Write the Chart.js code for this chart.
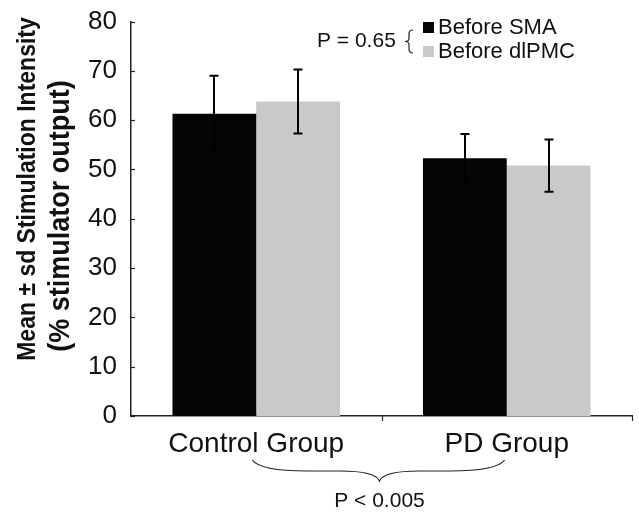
<!DOCTYPE html>
<html>
<head>
<meta charset="utf-8">
<script src="https://cdn.jsdelivr.net/npm/chart.js@4.4.1/dist/chart.umd.min.js"></script>
<style>
  html, body { margin: 0; padding: 0; background: #fff; }
  #wrap { width: 639px; height: 513px; position: relative; }
</style>
</head>
<body>
<div id="wrap"><canvas id="chart"></canvas></div>
<script>
// Stimulation intensity before SMA / dlPMC stimulation, by group
const categories = ['Control Group', 'PD Group'];
const seriesNames = ['Before SMA', 'Before dlPMC'];
const beforeSMA = [61.3, 52.3];
const beforeSMASd = [7.7, 4.9];
const beforeDLPMC = [63.8, 50.8];
const beforeDLPMCSd = [6.5, 5.3];
const yTicks = [0, 10, 20, 30, 40, 50, 60, 70, 80];
const yTitle = ['Mean \u00b1 sd Stimulation Intensity', '(% stimulator output)'];
const pSites = 'P = 0.65';
const pGroups = 'P < 0.005';

const FONT = '"Liberation Sans", Arial, Helvetica, sans-serif';
const BLACK = '#050505';
const GREY = '#c9c9c9';

// --- Annotations: error bars, inward ticks, legend, braces, axis title ---
const extras = {
  id: 'extras',
  afterDatasetsDraw(chart) {
    const ctx = chart.ctx;
    const y = chart.scales.y;
    const sds = [beforeSMASd, beforeDLPMCSd];

    // error bars
    ctx.save();
    ctx.strokeStyle = '#000';
    ctx.lineWidth = 2;
    chart.data.datasets.forEach((ds, di) => {
      const meta = chart.getDatasetMeta(di);
      meta.data.forEach((bar, i) => {
        const m = ds.data[i];
        const top = y.getPixelForValue(m + sds[di][i]);
        const bot = y.getPixelForValue(m - sds[di][i]);
        const cx = Math.round(bar.x);
        ctx.beginPath();
        ctx.moveTo(cx, top); ctx.lineTo(cx, bot);
        ctx.moveTo(cx - 4.5, top); ctx.lineTo(cx + 4.5, top);
        ctx.moveTo(cx - 4.5, bot); ctx.lineTo(cx + 4.5, bot);
        ctx.stroke();
      });
    });
    ctx.restore();
  },
  afterDraw(chart) {
    const ctx = chart.ctx;
    const x = chart.scales.x;
    const y = chart.scales.y;
    const area = chart.chartArea;

    ctx.save();
    ctx.strokeStyle = '#222';
    ctx.lineWidth = 1.2;
    // y ticks point into the plot
    y.ticks.forEach(t => {
      const py = Math.round(y.getPixelForValue(t.value)) + 0.5;
      ctx.beginPath();
      ctx.moveTo(area.left, py); ctx.lineTo(area.left + 4, py);
      ctx.stroke();
    });
    // x ticks hang below, at category boundaries and right end
    const bounds = [];
    for (let i = 1; i < categories.length; i++) {
      bounds.push((x.getPixelForValue(i - 1) + x.getPixelForValue(i)) / 2);
    }
    bounds.push(area.right - 0.5);
    bounds.forEach(bx => {
      ctx.beginPath();
      ctx.moveTo(Math.round(bx) + 0.5, area.bottom); ctx.lineTo(Math.round(bx) + 0.5, area.bottom + 5);
      ctx.stroke();
    });
    ctx.restore();

    // legend
    ctx.save();
    ctx.font = '22px ' + FONT;
    ctx.textBaseline = 'alphabetic';
    ctx.fillStyle = BLACK;
    ctx.fillRect(423, 22, 11, 11);
    ctx.fillStyle = GREY;
    ctx.fillRect(423, 46, 11, 11);
    ctx.fillStyle = '#111';
    ctx.fillText(seriesNames[0], 438, 34);
    ctx.fillText(seriesNames[1], 438, 58);
    ctx.font = '21px ' + FONT;
    ctx.fillText(pSites, 317, 47);

    // small left brace joining the two legend rows
    ctx.strokeStyle = '#222';
    ctx.lineWidth = 1.2;
    ctx.beginPath();
    const bx = 411, by0 = 30, by1 = 53, bym = (by0 + by1) / 2;
    ctx.moveTo(bx + 2, by0);
    ctx.quadraticCurveTo(bx - 2, by0, bx - 2, by0 + 4);
    ctx.lineTo(bx - 2, bym - 3);
    ctx.quadraticCurveTo(bx - 2, bym, bx - 6, bym);
    ctx.quadraticCurveTo(bx - 2, bym, bx - 2, bym + 3);
    ctx.lineTo(bx - 2, by1 - 4);
    ctx.quadraticCurveTo(bx - 2, by1, bx + 2, by1);
    ctx.stroke();

    // bottom brace spanning the two groups
    const x1 = x.getPixelForValue(0) - 4;
    const x2 = x.getPixelForValue(1) - 2;
    const xc = (x.getPixelForValue(0) + x.getPixelForValue(1)) / 2 - 2;
    const y0 = 460, ym = 471, y1 = 481;
    ctx.beginPath();
    ctx.moveTo(x1, y0);
    ctx.quadraticCurveTo(x1 + 8, ym, x1 + 55, ym);
    ctx.lineTo(xc - 40, ym);
    ctx.quadraticCurveTo(xc - 4, ym, xc, y1);
    ctx.quadraticCurveTo(xc + 4, ym, xc + 40, ym);
    ctx.lineTo(x2 - 55, ym);
    ctx.quadraticCurveTo(x2 - 8, ym, x2, y0);
    ctx.stroke();

    ctx.fillStyle = '#111';
    ctx.font = '21px ' + FONT;
    ctx.textAlign = 'center';
    ctx.fillText(pGroups, xc, 507);

    // y axis title, two rotated lines (glyphs a bit wide, as in the source)
    ctx.font = 'bold 23px ' + FONT;
    ctx.save();
    ctx.translate(35, 189);
    ctx.rotate(-Math.PI / 2);
    ctx.scale(1, 1.15);
    ctx.fillText(yTitle[0], 0, 0);
    ctx.restore();
    ctx.font = 'bold 27px ' + FONT;
    ctx.save();
    ctx.translate(69, 216);
    ctx.rotate(-Math.PI / 2);
    ctx.scale(1, 1.1);
    ctx.fillText(yTitle[1], 0, 0);
    ctx.restore();
    ctx.restore();
  }
};

new Chart(document.getElementById('chart'), {
  type: 'bar',
  data: {
    labels: categories,
    datasets: [
      { label: seriesNames[0], data: beforeSMA, backgroundColor: BLACK,
        categoryPercentage: 0.669, barPercentage: 1.0 },
      { label: seriesNames[1], data: beforeDLPMC, backgroundColor: GREY,
        categoryPercentage: 0.669, barPercentage: 1.0 },
    ],
  },
  options: {
    responsive: true,
    maintainAspectRatio: false,
    animation: false,
    layout: { padding: { left: 0, right: 7, top: 20, bottom: 0 } },
    plugins: { legend: { display: false }, tooltip: { enabled: false } },
    scales: {
      x: {
        grid: { display: false },
        border: { display: true, color: '#222', width: 1.5 },
        ticks: { color: '#111', font: { family: FONT, size: 28 }, padding: 3, maxRotation: 0 },
        afterFit(scale) { scale.height = 97; },
      },
      y: {
        min: 0,
        max: 80,
        afterBuildTicks(scale) { scale.ticks = yTicks.map(v => ({ value: v })); },
        grid: { display: false },
        border: { display: true, color: '#222', width: 1.5 },
        ticks: { color: '#111', font: { family: FONT, size: 26 }, padding: 6 },
        afterFit(scale) { scale.width = 131; },
      },
    },
  },
  plugins: [extras],
});
</script>
</body>
</html>
